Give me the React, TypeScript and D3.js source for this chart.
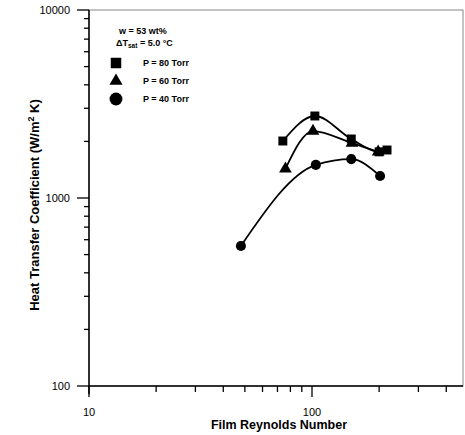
import React, { useEffect, useRef } from "react";
import * as d3 from "d3";

type Pt = { re: number; h: number };

// P = 80 Torr
const re80 = [74, 103, 150, 200, 217];
const h80 = [2010, 2730, 2060, 1760, 1800];
// P = 60 Torr
const re60 = [76, 101, 151, 198];
const h60 = [1430, 2270, 1960, 1760];
// P = 40 Torr
const re40 = [48, 104, 150, 202];
const h40 = [556, 1500, 1610, 1310];

const xTicks = [10, 100];
const yTicks = [100, 1000, 10000];
const legendLabels = ["P = 80 Torr", "P = 60 Torr", "P = 40 Torr"];

const zip = (a: number[], b: number[]): Pt[] => a.map((re, i) => ({ re, h: b[i] }));

const App: React.FC = () => {
  const ref = useRef<SVGSVGElement | null>(null);

  useEffect(() => {
    document.body.style.margin = "0";
    if (!ref.current) return;
    const svg = d3.select(ref.current);
    svg.selectAll("*").remove();

    const left = 89;
    const top = 10;
    const bottom = 386;
    const right = 463;
    const decadeX = 223;

    const x = d3
      .scaleLog()
      .domain([10, 500])
      .range([left, left + decadeX * Math.log10(50)]);
    const y = d3.scaleLog().domain([100, 10000]).range([bottom, top]);

    const font = "'Liberation Sans', Arial, sans-serif";

    // frame
    svg
      .append("rect")
      .attr("x", left)
      .attr("y", top)
      .attr("width", right - left)
      .attr("height", bottom - top)
      .attr("fill", "none")
      .attr("stroke", "#888")
      .attr("stroke-width", 1);

    // x axis
    const gx = svg.append("g");
    gx.append("line")
      .attr("x1", left)
      .attr("x2", right)
      .attr("y1", bottom)
      .attr("y2", bottom)
      .attr("stroke", "#000")
      .attr("stroke-width", 1.5);
    const xMinor: number[] = [];
    for (let d = 10; d < 1000; d *= 10)
      for (let k = 1; k < 10; k++) {
        const v = d * k;
        if (x(v) <= right) xMinor.push(v);
      }
    gx.selectAll("line.t")
      .data(xMinor)
      .join("line")
      .attr("class", "t")
      .attr("x1", (d) => x(d))
      .attr("x2", (d) => x(d))
      .attr("y1", bottom)
      .attr("y2", (d) => bottom + (xTicks.includes(d) ? 11 : 6))
      .attr("stroke", "#000")
      .attr("stroke-width", 1.3);
    gx.selectAll("text")
      .data(xTicks)
      .join("text")
      .attr("x", (d) => x(d))
      .attr("y", 416)
      .attr("text-anchor", "middle")
      .attr("font-family", font)
      .attr("font-size", 11)
      .text((d) => String(d));

    // y axis
    const gy = svg.append("g");
    gy.append("line")
      .attr("x1", left)
      .attr("x2", left)
      .attr("y1", top)
      .attr("y2", bottom + 8)
      .attr("stroke", "#000")
      .attr("stroke-width", 1.5);
    const yMinor: number[] = [];
    for (let d = 100; d <= 10000; d *= 10)
      for (let k = 1; k < 10; k++) {
        const v = d * k;
        if (v <= 10000) yMinor.push(v);
      }
    gy.selectAll("line.t")
      .data(yMinor)
      .join("line")
      .attr("class", "t")
      .attr("x1", (d) => left - (yTicks.includes(d) ? 12 : 5))
      .attr("x2", left)
      .attr("y1", (d) => y(d))
      .attr("y2", (d) => y(d))
      .attr("stroke", "#000")
      .attr("stroke-width", 1.3);
    gy.selectAll("text")
      .data(yTicks)
      .join("text")
      .attr("x", 70)
      .attr("y", (d) => y(d) + 4)
      .attr("text-anchor", "end")
      .attr("font-family", font)
      .attr("font-size", 11)
      .text((d) => String(d));

    // axis titles
    svg
      .append("text")
      .attr("x", 279)
      .attr("y", 429)
      .attr("text-anchor", "middle")
      .attr("font-family", font)
      .attr("font-weight", "bold")
      .attr("font-size", 12.5)
      .text("Film Reynolds Number");

    const yt = svg
      .append("text")
      .attr("transform", "translate(39,205) rotate(-90)")
      .attr("text-anchor", "middle")
      .attr("font-family", font)
      .attr("font-weight", "bold")
      .attr("font-size", 13);
    yt.append("tspan").text("Heat Transfer Coefficient (W/m");
    yt.append("tspan").attr("dy", -5).attr("font-size", 9).text("2");
    yt.append("tspan").attr("dy", 5).text(" K)");

    // series
    const series = [zip(re80, h80), zip(re60, h60), zip(re40, h40)];
    const shapes = [d3.symbolSquare, d3.symbolTriangle, d3.symbolCircle];
    const sizes = [80, 70, 80];
    const line = d3
      .line<Pt>()
      .x((d) => x(d.re))
      .y((d) => y(d.h))
      .curve(d3.curveMonotoneX);

    series.forEach((s, i) => {
      svg
        .append("path")
        .attr("d", line(s))
        .attr("fill", "none")
        .attr("stroke", "#000")
        .attr("stroke-width", 1.8);
      svg
        .append("g")
        .selectAll("path")
        .data(s)
        .join("path")
        .attr("transform", (d) => `translate(${x(d.re)},${y(d.h)})`)
        .attr("d", d3.symbol().type(shapes[i]).size(sizes[i])()!)
        .attr("fill", "#000");
    });

    // legend
    const lg = svg.append("g").attr("font-family", font).attr("font-weight", "bold");
    lg.append("text").attr("x", 119).attr("y", 34).attr("font-size", 9).text("w = 53 wt%");
    const dt = lg.append("text").attr("x", 116).attr("y", 46).attr("font-size", 9);
    dt.append("tspan").text("\u0394T");
    dt.append("tspan").attr("dy", 2).attr("font-size", 6.5).text("sat");
    dt.append("tspan").attr("dy", -2).text(" = 5.0 \u00b0C");
    legendLabels.forEach((lab, i) => {
      const yy = 63 + i * 18;
      lg.append("path")
        .attr("transform", `translate(116,${yy})`)
        .attr("d", d3.symbol().type(shapes[i]).size([110, 75, 130][i])()!)
        .attr("fill", "#000");
      lg.append("text")
        .attr("x", 143)
        .attr("y", yy + 3)
        .attr("font-size", 9)
        .text(lab);
    });
  }, []);

  return <svg ref={ref} width={465} height={435} style={{ display: "block" }} />;
};

export default App;
